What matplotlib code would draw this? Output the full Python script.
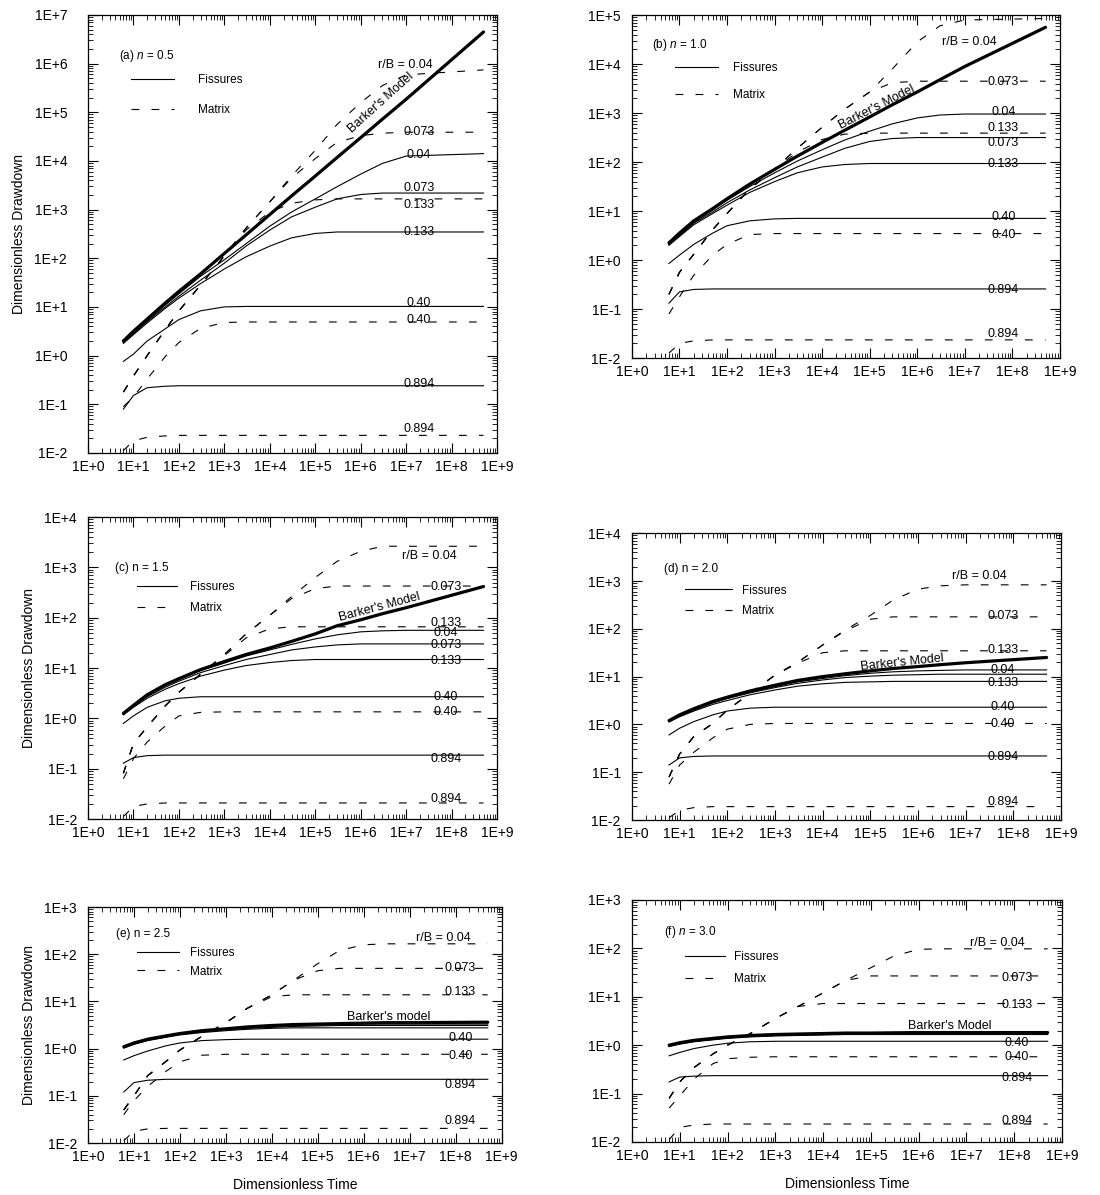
#!/usr/bin/env python3
"""Drawdown vs time for fissures and matrix, six values of flow dimension n."""

import numpy as np
import matplotlib
matplotlib.use('Agg')
import matplotlib.pyplot as plt
from matplotlib.ticker import LogLocator, FuncFormatter, NullFormatter
from matplotlib.lines import Line2D

plt.rcParams['font.family'] = ['Liberation Sans', 'DejaVu Sans']
plt.rcParams['mathtext.fontset'] = 'custom'
plt.rcParams['mathtext.rm'] = 'Liberation Sans'
plt.rcParams['mathtext.it'] = 'Liberation Sans:italic'

t_d = [6, 10, 20, 50, 1e2, 3e2, 1e3, 3e3, 1e4, 3e4, 1e5, 3e5, 1e6, 3e6, 1e7, 5e8]
r_b = ['0.04', '0.073', '0.133', '0.40', '0.894']

# all drawdowns below are log10 values, one list per r/B (order of r_b)
a_barker = [0.3, 0.5, 0.75, 1.08, 1.32, 1.68, 2.1, 2.48, 2.9, 3.28, 3.69, 4.07, 4.48, 4.86, 5.27, 6.65]
a_fissures = [
    [0.28, 0.47, 0.72, 1.04, 1.27, 1.63, 1.97, 2.3, 2.66, 2.95, 3.22, 3.47, 3.73, 3.95, 4.1, 4.15],
    [0.27, 0.45, 0.7, 1.0, 1.22, 1.55, 1.9, 2.25, 2.58, 2.85, 3.05, 3.22, 3.31, 3.34, 3.34, 3.34],
    [0.25, 0.43, 0.67, 0.97, 1.18, 1.48, 1.78, 2.03, 2.25, 2.42, 2.51, 2.54, 2.54, 2.54, 2.54, 2.54],
    [-0.12, 0.03, 0.3, 0.55, 0.74, 0.92, 1.0, 1.01, 1.01, 1.01, 1.01, 1.01, 1.01, 1.01, 1.01, 1.01],
    [-1.1, -0.82, -0.66, -0.63, -0.62, -0.62, -0.62, -0.62, -0.62, -0.62, -0.62, -0.62, -0.62, -0.62, -0.62, -0.62],
]
a_matrix = [
    [-0.75, -0.42, 0.0, 0.53, 0.92, 1.45, 2.05, 2.62, 3.16, 3.69, 4.22, 4.75, 5.2, 5.55, 5.77, 5.87],
    [-0.75, -0.42, 0.0, 0.53, 0.92, 1.45, 2.05, 2.62, 3.16, 3.65, 4.05, 4.38, 4.52, 4.57, 4.59, 4.59],
    [-0.75, -0.42, 0.0, 0.53, 0.92, 1.45, 2.05, 2.58, 2.95, 3.13, 3.2, 3.22, 3.22, 3.22, 3.22, 3.22],
    [-1.05, -0.85, -0.48, -0.02, 0.27, 0.56, 0.68, 0.69, 0.69, 0.69, 0.69, 0.69, 0.69, 0.69, 0.69, 0.69],
    [-1.95, -1.75, -1.68, -1.65, -1.64, -1.64, -1.64, -1.64, -1.64, -1.64, -1.64, -1.64, -1.64, -1.64, -1.64, -1.64],
]

b_barker = [0.35, 0.55, 0.8, 1.05, 1.25, 1.55, 1.85, 2.12, 2.4, 2.65, 2.92, 3.17, 3.43, 3.68, 3.95, 4.75]
b_fissures = [
    [0.33, 0.52, 0.77, 1.02, 1.22, 1.5, 1.78, 2.02, 2.25, 2.45, 2.63, 2.78, 2.9, 2.96, 2.98, 2.98],
    [0.32, 0.5, 0.75, 0.98, 1.17, 1.43, 1.68, 1.9, 2.1, 2.28, 2.42, 2.48, 2.5, 2.5, 2.5, 2.5],
    [0.3, 0.48, 0.72, 0.95, 1.12, 1.38, 1.6, 1.78, 1.9, 1.95, 1.97, 1.97, 1.97, 1.97, 1.97, 1.97],
    [-0.07, 0.1, 0.32, 0.55, 0.7, 0.8, 0.84, 0.85, 0.85, 0.85, 0.85, 0.85, 0.85, 0.85, 0.85, 0.85],
    [-0.88, -0.65, -0.6, -0.59, -0.59, -0.59, -0.59, -0.59, -0.59, -0.59, -0.59, -0.59, -0.59, -0.59, -0.59, -0.59],
]
b_matrix = [
    [-0.7, -0.25, 0.12, 0.62, 0.95, 1.45, 1.86, 2.28, 2.71, 3.08, 3.43, 3.9, 4.45, 4.78, 4.9, 4.93],
    [-0.7, -0.25, 0.12, 0.62, 0.95, 1.45, 1.86, 2.28, 2.71, 3.08, 3.43, 3.62, 3.65, 3.65, 3.65, 3.65],
    [-0.7, -0.25, 0.12, 0.62, 0.95, 1.45, 1.86, 2.2, 2.46, 2.57, 2.59, 2.59, 2.59, 2.59, 2.59, 2.59],
    [-1.1, -0.75, -0.31, 0.1, 0.32, 0.52, 0.54, 0.54, 0.54, 0.54, 0.54, 0.54, 0.54, 0.54, 0.54, 0.54],
    [-1.9, -1.7, -1.65, -1.63, -1.63, -1.63, -1.63, -1.63, -1.63, -1.63, -1.63, -1.63, -1.63, -1.63, -1.63, -1.63],
]

c_barker = [0.1, 0.26, 0.47, 0.67, 0.79, 0.97, 1.13, 1.27, 1.4, 1.53, 1.68, 1.84, 1.96, 2.08, 2.2, 2.62]
c_fissures = [
    [0.09, 0.25, 0.45, 0.65, 0.77, 0.95, 1.1, 1.24, 1.36, 1.47, 1.58, 1.66, 1.72, 1.74, 1.75, 1.75],
    [0.08, 0.24, 0.43, 0.62, 0.74, 0.91, 1.05, 1.17, 1.27, 1.36, 1.42, 1.46, 1.48, 1.48, 1.48, 1.48],
    [0.07, 0.22, 0.4, 0.58, 0.69, 0.84, 0.96, 1.05, 1.11, 1.15, 1.17, 1.17, 1.17, 1.17, 1.17, 1.17],
    [-0.1, 0.05, 0.22, 0.35, 0.4, 0.43, 0.43, 0.43, 0.43, 0.43, 0.43, 0.43, 0.43, 0.43, 0.43, 0.43],
    [-0.89, -0.78, -0.74, -0.73, -0.73, -0.73, -0.73, -0.73, -0.73, -0.73, -0.73, -0.73, -0.73, -0.73, -0.73, -0.73],
]
c_matrix = [
    [-1.09, -0.5, -0.17, 0.25, 0.52, 0.88, 1.27, 1.68, 2.05, 2.42, 2.8, 3.12, 3.32, 3.42, 3.42, 3.42],
    [-1.09, -0.5, -0.17, 0.25, 0.52, 0.88, 1.27, 1.68, 2.05, 2.38, 2.58, 2.63, 2.63, 2.63, 2.63, 2.63],
    [-1.09, -0.5, -0.17, 0.25, 0.52, 0.88, 1.25, 1.6, 1.78, 1.82, 1.82, 1.82, 1.82, 1.82, 1.82, 1.82],
    [-1.2, -0.8, -0.47, -0.15, 0.05, 0.12, 0.13, 0.13, 0.13, 0.13, 0.13, 0.13, 0.13, 0.13, 0.13, 0.13],
    [-1.95, -1.75, -1.7, -1.68, -1.68, -1.68, -1.68, -1.68, -1.68, -1.68, -1.68, -1.68, -1.68, -1.68, -1.68, -1.68],
]

d_barker = [0.08, 0.2, 0.33, 0.48, 0.57, 0.7, 0.82, 0.92, 1.0, 1.06, 1.12, 1.17, 1.21, 1.25, 1.29, 1.4]
d_fissures = [
    [0.07, 0.19, 0.31, 0.46, 0.55, 0.68, 0.79, 0.89, 0.96, 1.02, 1.07, 1.1, 1.12, 1.13, 1.14, 1.14],
    [0.06, 0.18, 0.3, 0.45, 0.54, 0.66, 0.77, 0.86, 0.93, 0.98, 1.01, 1.03, 1.04, 1.05, 1.05, 1.05],
    [0.05, 0.16, 0.28, 0.42, 0.5, 0.62, 0.72, 0.8, 0.85, 0.88, 0.89, 0.9, 0.9, 0.9, 0.9, 0.9],
    [-0.22, -0.08, 0.06, 0.2, 0.28, 0.34, 0.36, 0.36, 0.36, 0.36, 0.36, 0.36, 0.36, 0.36, 0.36, 0.36],
    [-0.85, -0.7, -0.67, -0.66, -0.66, -0.66, -0.66, -0.66, -0.66, -0.66, -0.66, -0.66, -0.66, -0.66, -0.66, -0.66],
]
d_matrix = [
    [-1.1, -0.62, -0.25, 0.02, 0.3, 0.65, 1.03, 1.3, 1.66, 1.98, 2.28, 2.6, 2.83, 2.9, 2.92, 2.92],
    [-1.1, -0.62, -0.25, 0.02, 0.3, 0.65, 1.03, 1.3, 1.66, 1.96, 2.2, 2.25, 2.25, 2.25, 2.25, 2.25],
    [-1.1, -0.62, -0.25, 0.02, 0.3, 0.65, 1.03, 1.28, 1.5, 1.54, 1.54, 1.54, 1.54, 1.54, 1.54, 1.54],
    [-1.25, -0.85, -0.58, -0.28, -0.1, 0.0, 0.02, 0.02, 0.02, 0.02, 0.02, 0.02, 0.02, 0.02, 0.02, 0.02],
    [-1.95, -1.8, -1.74, -1.72, -1.72, -1.72, -1.72, -1.72, -1.72, -1.72, -1.72, -1.72, -1.72, -1.72, -1.72, -1.72],
]

e_barker = [0.04, 0.12, 0.2, 0.27, 0.32, 0.38, 0.42, 0.46, 0.49, 0.51, 0.52, 0.53, 0.54, 0.55, 0.55, 0.56]
e_fissures = [
    [0.03, 0.11, 0.19, 0.26, 0.31, 0.37, 0.41, 0.44, 0.47, 0.49, 0.5, 0.51, 0.52, 0.52, 0.52, 0.52],
    [0.02, 0.1, 0.18, 0.25, 0.3, 0.36, 0.4, 0.43, 0.45, 0.47, 0.48, 0.49, 0.49, 0.49, 0.49, 0.49],
    [0.01, 0.09, 0.17, 0.24, 0.29, 0.34, 0.38, 0.41, 0.43, 0.44, 0.44, 0.44, 0.44, 0.44, 0.44, 0.44],
    [-0.24, -0.15, -0.05, 0.06, 0.12, 0.17, 0.19, 0.2, 0.2, 0.2, 0.2, 0.2, 0.2, 0.2, 0.2, 0.2],
    [-0.92, -0.72, -0.67, -0.65, -0.65, -0.65, -0.65, -0.65, -0.65, -0.65, -0.65, -0.65, -0.65, -0.65, -0.65, -0.65],
]
e_matrix = [
    [-1.3, -1.0, -0.57, -0.27, -0.03, 0.26, 0.55, 0.86, 1.14, 1.45, 1.8, 2.08, 2.2, 2.22, 2.22, 2.22],
    [-1.3, -1.0, -0.57, -0.27, -0.03, 0.26, 0.55, 0.86, 1.14, 1.45, 1.65, 1.7, 1.7, 1.7, 1.7, 1.7],
    [-1.3, -1.0, -0.57, -0.27, -0.03, 0.26, 0.55, 0.86, 1.1, 1.14, 1.14, 1.14, 1.14, 1.14, 1.14, 1.14],
    [-1.4, -1.1, -0.8, -0.48, -0.28, -0.14, -0.12, -0.12, -0.12, -0.12, -0.12, -0.12, -0.12, -0.12, -0.12, -0.12],
    [-1.95, -1.75, -1.7, -1.69, -1.69, -1.69, -1.69, -1.69, -1.69, -1.69, -1.69, -1.69, -1.69, -1.69, -1.69, -1.69],
]

f_barker = [0.0, 0.05, 0.1, 0.14, 0.17, 0.2, 0.22, 0.23, 0.24, 0.25, 0.25, 0.255, 0.26, 0.26, 0.26, 0.26]
f_fissures = [
    [-0.01, 0.04, 0.09, 0.13, 0.16, 0.19, 0.21, 0.22, 0.23, 0.24, 0.24, 0.245, 0.25, 0.25, 0.25, 0.25],
    [-0.02, 0.03, 0.08, 0.12, 0.15, 0.18, 0.2, 0.21, 0.22, 0.23, 0.23, 0.235, 0.24, 0.24, 0.24, 0.24],
    [-0.03, 0.02, 0.07, 0.11, 0.14, 0.17, 0.19, 0.2, 0.21, 0.22, 0.22, 0.22, 0.22, 0.22, 0.22, 0.22],
    [-0.22, -0.15, -0.07, 0.0, 0.04, 0.07, 0.08, 0.08, 0.08, 0.08, 0.08, 0.08, 0.08, 0.08, 0.08, 0.08],
    [-0.76, -0.66, -0.64, -0.63, -0.63, -0.63, -0.63, -0.63, -0.63, -0.63, -0.63, -0.63, -0.63, -0.63, -0.63, -0.63],
]
f_matrix = [
    [-1.1, -0.76, -0.46, -0.18, 0.0, 0.24, 0.55, 0.8, 1.08, 1.34, 1.6, 1.84, 1.98, 1.99, 1.99, 1.99],
    [-1.1, -0.76, -0.46, -0.18, 0.0, 0.24, 0.55, 0.8, 1.08, 1.34, 1.43, 1.43, 1.43, 1.43, 1.43, 1.43],
    [-1.1, -0.76, -0.46, -0.18, 0.0, 0.24, 0.55, 0.8, 0.86, 0.86, 0.86, 0.86, 0.86, 0.86, 0.86, 0.86],
    [-1.3, -1.05, -0.7, -0.38, -0.28, -0.25, -0.24, -0.24, -0.24, -0.24, -0.24, -0.24, -0.24, -0.24, -0.24, -0.24],
    [-1.95, -1.7, -1.65, -1.63, -1.63, -1.63, -1.63, -1.63, -1.63, -1.63, -1.63, -1.63, -1.63, -1.63, -1.63, -1.63],
]

# curve labels at the right of each panel (text, log10 drawdown position)
a_labels = [('r/B = 0.04', 5.98), ('0.073', 4.59), ('0.04', 4.12), ('0.073', 3.44), ('0.133', 3.09),
            ('0.133', 2.53), ('0.40', 1.08), ('0.40', 0.73), ('0.894', -0.59), ('0.894', -1.5)]
b_labels = [('r/B = 0.04', 4.46), ('0.073', 3.64), ('0.04', 3.03), ('0.133', 2.69), ('0.073', 2.39),
            ('0.133', 1.96), ('0.40', 0.87), ('0.40', 0.51), ('0.894', -0.61), ('0.894', -1.5)]
c_labels = [('r/B = 0.04', 3.22), ('0.073', 2.61), ('0.133', 1.9), ('0.04', 1.7), ('0.073', 1.46),
            ('0.133', 1.14), ('0.40', 0.42), ('0.40', 0.12), ('0.894', -0.81), ('0.894', -1.6)]
d_labels = [('r/B = 0.04', 3.11), ('0.073', 2.26), ('0.133', 1.56), ('0.04', 1.14), ('0.133', 0.86),
            ('0.40', 0.36), ('0.40', 0.01), ('0.894', -0.68), ('0.894', -1.63)]
e_labels = [('r/B = 0.04', 2.34), ('0.073', 1.7), ('0.133', 1.19), ('0.40', 0.23), ('0.40', -0.16),
            ('0.894', -0.77), ('0.894', -1.54)]
f_labels = [('r/B = 0.04', 2.11), ('0.073', 1.39), ('0.133', 0.82), ('0.40', 0.05), ('0.40', -0.24),
            ('0.894', -0.68), ('0.894', -1.56)]

MATRIX_DASH = (0, (7, 11))


def decade_label(v, pos):
    return '1E%+d' % int(round(np.log10(v)))


def draw_panel(fig, p):
    ax = fig.add_axes(p['rect'])
    t = np.array(t_d)

    for vals in p['matrix']:
        ax.plot(t, np.power(10.0, vals), color='black', lw=0.8, ls=MATRIX_DASH)
    for vals in p['fissures']:
        ax.plot(t, np.power(10.0, vals), color='black', lw=0.8)
    ax.plot(t, np.power(10.0, p['barker']), color='black', lw=2.3, solid_capstyle='round')

    ax.set_xscale('log')
    ax.set_yscale('log')
    ax.set_xlim(1, 1e9)
    ax.set_ylim(p['ylim'])

    for a in (ax.xaxis, ax.yaxis):
        a.set_major_locator(LogLocator(base=10, subs=(1.0,), numticks=20))
        a.set_minor_locator(LogLocator(base=10, subs=np.arange(2, 10), numticks=20))
        a.set_minor_formatter(NullFormatter())
        a.set_major_formatter(FuncFormatter(decade_label))
    ax.tick_params(which='both', direction='in', top=True, right=True, labelsize=10)
    ax.tick_params(which='major', length=7, width=0.8)
    ax.tick_params(which='minor', length=3.5, width=0.6)
    ax.tick_params(axis='x', pad=5)
    ax.tick_params(axis='y', pad=p['ypad'])
    for s in ax.spines.values():
        s.set_linewidth(0.9)

    # curve labels
    lab_x, rb_x = p['label_x']
    for text, y in p['labels']:
        x = rb_x if text.startswith('r/B') else lab_x
        ax.text(10 ** x, 10 ** y, text, fontsize=9, ha='center', va='center')

    bx, by, brot, btxt = p['barker_label']
    ax.text(10 ** bx, 10 ** by, btxt, fontsize=9, ha='center', va='center',
            rotation=brot, rotation_mode='anchor')

    # panel tag and legend
    ax.text(p['tag_pos'][0], p['tag_pos'][1], p['tag'], transform=ax.transAxes,
            fontsize=8.5, ha='left', va='center')
    hl, htp, ls, lx, ly = p['legend']
    handles = [Line2D([], [], color='black', lw=0.8),
               Line2D([], [], color='black', lw=0.8, ls=MATRIX_DASH)]
    ax.legend(handles, ['Fissures', 'Matrix'], loc='upper left', bbox_to_anchor=(lx, ly),
              frameon=False, fontsize=8.5, borderpad=0, borderaxespad=0,
              handlelength=hl, handletextpad=htp, labelspacing=ls)

    if p['ylabel']:
        ax.set_ylabel('Dimensionless Drawdown', fontsize=10, labelpad=6)
    if p['xlabel']:
        ax.set_xlabel('Dimensionless Time', fontsize=10, labelpad=10)
    return ax


def main():
    fig = plt.figure(figsize=(11, 11.95), dpi=100)

    panels = [
        dict(rect=[0.08, 0.621, 0.372, 0.3665], ylim=(1e-2, 1e7), barker=a_barker,
             fissures=a_fissures, matrix=a_matrix, labels=a_labels, label_x=(7.28, 6.99),
             barker_label=(6.45, 5.2, 42, "Barker's Model"), tag=r'(a) $n$ = 0.5',
             tag_pos=(0.075, 0.906), legend=(3.7, 2.0, 1.5, 0.104, 0.865),
             ylabel=True, xlabel=False, ypad=15),
        dict(rect=[0.5745, 0.7004, 0.389, 0.287], ylim=(1e-2, 1e5), barker=b_barker,
             fissures=b_fissures, matrix=b_matrix, labels=b_labels, label_x=(7.81, 7.1),
             barker_label=(5.15, 3.12, 27, "Barker's Model"), tag=r'(b) $n$ = 1.0',
             tag_pos=(0.047, 0.913), legend=(3.7, 1.2, 1.3, 0.1, 0.863),
             ylabel=False, xlabel=False, ypad=8),
        dict(rect=[0.08, 0.3146, 0.372, 0.2527], ylim=(1e-2, 1e4), barker=c_barker,
             fissures=c_fissures, matrix=c_matrix, labels=c_labels, label_x=(7.87, 7.5),
             barker_label=(6.41, 2.2, 15, "Barker's Model"), tag='(c) n = 1.5',
             tag_pos=(0.067, 0.833), legend=(3.4, 1.1, 0.75, 0.12, 0.789),
             ylabel=True, xlabel=False, ypad=8),
        dict(rect=[0.5745, 0.3138, 0.39, 0.240], ylim=(1e-2, 1e4), barker=d_barker,
             fissures=d_fissures, matrix=d_matrix, labels=d_labels, label_x=(7.78, 7.29),
             barker_label=(5.67, 1.3, 6, "Barker's Model"), tag='(d) n = 2.0',
             tag_pos=(0.074, 0.874), legend=(4.0, 0.85, 0.7, 0.124, 0.821),
             ylabel=False, xlabel=False, ypad=8),
        dict(rect=[0.08, 0.0435, 0.376, 0.1975], ylim=(1e-2, 1e3), barker=e_barker,
             fissures=e_fissures, matrix=e_matrix, labels=e_labels, label_x=(8.1, 7.74),
             barker_label=(6.54, 0.68, 0, "Barker's model"), tag='(e) n = 2.5',
             tag_pos=(0.067, 0.887), legend=(3.5, 1.0, 0.55, 0.119, 0.83),
             ylabel=True, xlabel=True, ypad=8),
        dict(rect=[0.5745, 0.0444, 0.391, 0.2025], ylim=(1e-2, 1e3), barker=f_barker,
             fissures=f_fissures, matrix=f_matrix, labels=f_labels, label_x=(8.06, 7.64),
             barker_label=(6.66, 0.4, 0, "Barker's Model"), tag=r'(f) $n$ = 3.0',
             tag_pos=(0.074, 0.869), legend=(3.4, 0.7, 0.85, 0.124, 0.788),
             ylabel=False, xlabel=True, ypad=8),
    ]

    for p in panels:
        draw_panel(fig, p)

    fig.savefig('out.png', dpi=100)
    print('Graph saved to out.png')


if __name__ == "__main__":
    main()
